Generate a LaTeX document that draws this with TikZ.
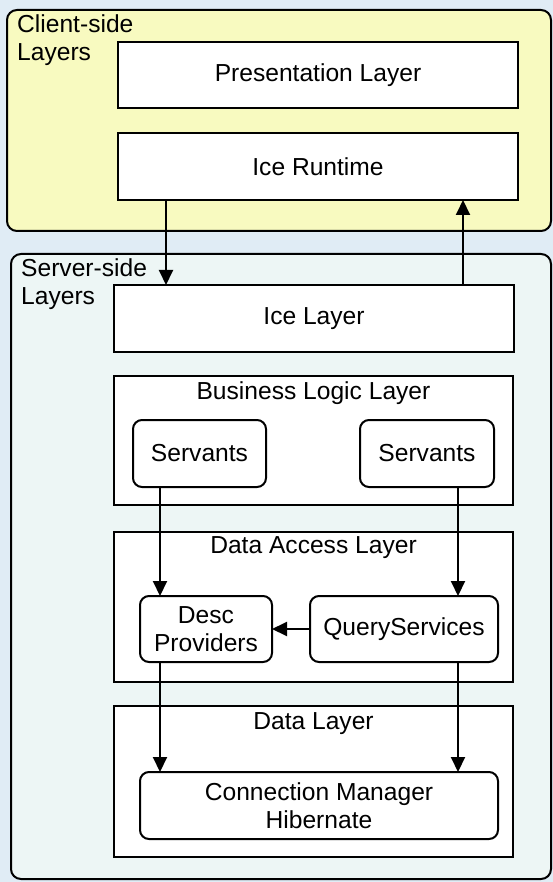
\documentclass[tikz,border=0pt]{standalone}
\usepackage{fontspec}
\setmainfont{Liberation Sans}
\usetikzlibrary{arrows.meta}

\definecolor{pagebg}{RGB}{224,236,245}
\definecolor{clientfill}{RGB}{248,250,192}
\definecolor{serverfill}{RGB}{237,246,245}

\newcommand\lbl{\fontsize{24.6}{28.5}\selectfont}

\tikzset{
  tier/.style={draw, line width=2pt, rounded corners=10pt, inner sep=0pt, outer sep=0pt},
  tiername/.style={anchor=north west, inner sep=0pt, align=left, font=\lbl},
  layerbox/.style={draw, fill=white, line width=2pt, inner sep=0pt, outer sep=0pt,
                   align=center, font=\lbl},
  compbox/.style={layerbox, rounded corners=9pt},
  layertitle/.style={anchor=base, inner sep=0pt, font=\lbl},
  flow/.style={line width=2pt, -{Triangle[length=15pt,width=14pt]}},
}

\begin{document}
\begin{tikzpicture}[x=1pt, y=-1pt]
  \useasboundingbox (0,0) rectangle (553,882);
  \fill[pagebg] (0,0) rectangle (553,882);

  % client side
  \node[tier, fill=clientfill, minimum width=544pt, minimum height=221pt] (client) at (279,120.5) {};
  \node[tiername] (clientname) at (17,14.4) {Client-side\\Layers};
  \node[layerbox, minimum width=400pt, minimum height=66pt] (pres) at (318,75) {Presentation Layer};
  \node[layerbox, minimum width=400pt, minimum height=67pt] (irt) at (318,166.5) {Ice Runtime};

  % server side
  \node[tier, fill=serverfill, minimum width=540pt, minimum height=625pt] (server) at (281,566.5) {};
  \node[tiername] (servername) at (21,258.4) {Server-side\\Layers};
  \node[layerbox, minimum width=400pt, minimum height=67pt] (il) at (314,318.5) {Ice Layer};

  \node[layerbox, minimum width=399pt, minimum height=129pt] (blogic) at (313.5,440.5) {};
  \node[layertitle] (blogictitle) at (313.5,399) {Business Logic Layer};
  \node[compbox, minimum width=133pt, minimum height=67pt] (svl) at (199.5,453.5) {Servants};
  \node[compbox, minimum width=134pt, minimum height=67pt] (svr) at (427,453.5) {Servants};

  \node[layerbox, minimum width=399pt, minimum height=150pt] (daccess) at (313.5,607) {};
  \node[layertitle] (daccesstitle) at (313.5,553) {Data Access Layer};
  \node[compbox, minimum width=132pt, minimum height=66pt] (desc) at (206,629) {Desc\\Providers};
  \node[compbox, minimum width=188pt, minimum height=66pt] (qs) at (404,629) {QueryServices};

  \node[layerbox, minimum width=399pt, minimum height=151pt] (dlayer) at (313.5,781.5) {};
  \node[layertitle] (dlayertitle) at (313.5,729) {Data Layer};
  \node[compbox, minimum width=358pt, minimum height=67pt] (conn) at (319,805.5) {Connection Manager\\Hibernate};

  % connector columns
  \coordinate (xdown) at (166,0);
  \coordinate (xup) at (463,0);
  \coordinate (xleft) at (160,0);
  \coordinate (xright) at (458,0);

  \draw[flow] (irt.south -| xdown) -- (il.north -| xdown);
  \draw[flow] (il.north -| xup) -- (irt.south -| xup);
  \draw[flow] (svl.south -| xleft) -- (desc.north -| xleft);
  \draw[flow] (svr.south -| xright) -- (qs.north -| xright);
  \draw[flow] (qs.west) -- (desc.east);
  \draw[flow] (desc.south -| xleft) -- (conn.north -| xleft);
  \draw[flow] (qs.south -| xright) -- (conn.north -| xright);
\end{tikzpicture}
\end{document}
